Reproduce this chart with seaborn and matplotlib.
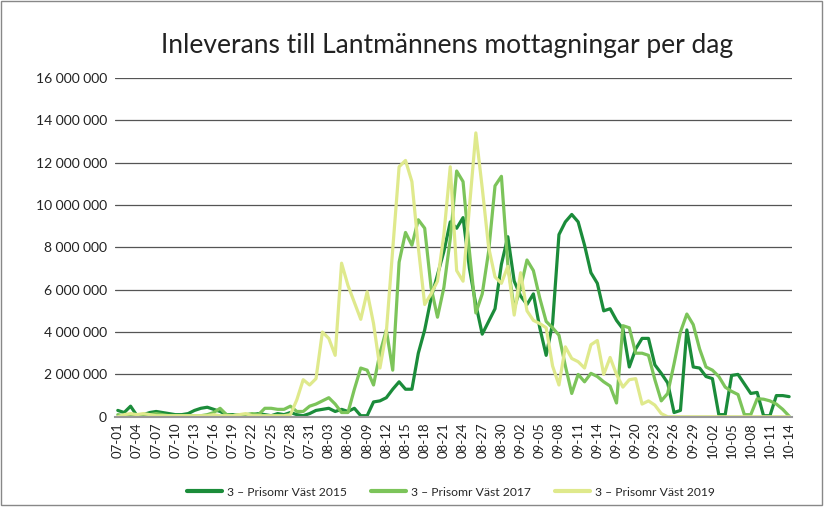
import matplotlib
matplotlib.use("Agg")
import matplotlib.pyplot as plt
import matplotlib.ticker as mticker
from matplotlib.patches import Rectangle
import seaborn as sns
import pandas as pd
import numpy as np

# daily deliveries, 07-01 .. 10-14, in millions
days = pd.date_range("2015-07-01", "2015-10-14").strftime("%m-%d").tolist()

v2015 = [0.3, 0.2, 0.5, 0.05, 0.1, 0.2, 0.25, 0.2, 0.15, 0.1,
         0.1, 0.15, 0.3, 0.4, 0.45, 0.35, 0.25, 0.1, 0.1, 0.05,
         0.1, 0.1, 0.15, 0.1, 0.05, 0.15, 0.1, 0.2, 0.1, 0.05,
         0.15, 0.3, 0.35, 0.4, 0.25, 0.35, 0.25, 0.4, 0.05, 0.05,
         0.7, 0.75, 0.9, 1.3, 1.65, 1.3, 1.3, 3.0, 4.1, 5.6,
         6.7, 7.8, 9.2, 8.9, 9.4, 7.0, 5.3, 3.9, 4.5, 5.1,
         7.2, 8.5, 6.4, 5.7, 5.3, 5.8, 4.2, 2.9, 4.4, 8.6,
         9.2, 9.55, 9.2, 8.1, 6.8, 6.3, 5.0, 5.1, 4.55, 4.15,
         2.35, 3.2, 3.7, 3.7, 2.45, 2.05, 1.6, 0.2, 0.3, 4.1,
         2.35, 2.3, 1.9, 1.8, 0.1, 0.1, 1.95, 2.0, 1.55, 1.1,
         1.15, 0.05, 0.05, 1.0, 1.0, 0.95]

v2017 = [0.1, 0.05, 0.1, 0.1, 0.05, 0.1, 0.15, 0.1, 0.05, 0.05,
         0.05, 0.05, 0.05, 0.05, 0.1, 0.2, 0.4, 0.1, 0.05, 0.1,
         0.1, 0.15, 0.1, 0.4, 0.4, 0.35, 0.35, 0.5, 0.25, 0.25,
         0.5, 0.6, 0.75, 0.9, 0.6, 0.2, 0.2, 1.3, 2.3, 2.2,
         1.5, 3.0, 4.1, 2.2, 7.3, 8.7, 8.1, 9.3, 8.9, 6.1,
         4.7, 6.1, 8.4, 11.6, 11.1, 7.8, 4.9, 5.8, 7.8, 10.9,
         11.35, 7.2, 5.1, 6.1, 7.4, 6.9, 5.6, 4.5, 4.2, 3.85,
         2.4, 1.1, 2.0, 1.65, 2.05, 1.9, 1.65, 1.45, 0.65, 4.3,
         4.2, 3.0, 3.0, 2.9, 1.75, 0.75, 1.1, 2.5, 4.0, 4.85,
         4.35, 3.2, 2.35, 2.2, 1.9, 1.4, 1.2, 1.05, 0.1, 0.1,
         0.85, 0.83, 0.75, 0.6, 0.35, 0.03]

v2019 = [0.0, 0.1, 0.15, 0.1, 0.15, 0.1, 0.05, 0.05, 0.05, 0.05,
         0.05, 0.05, 0.05, 0.05, 0.05, 0.1, 0.05, 0.05, 0.05, 0.1,
         0.15, 0.05, 0.05, 0.05, 0.05, 0.05, 0.05, 0.1, 0.8, 1.75,
         1.5, 1.8, 4.0, 3.7, 2.9, 7.25, 6.2, 5.4, 4.6, 5.9,
         4.4, 2.3, 4.0, 7.9, 11.8, 12.1, 11.1, 8.0, 5.3, 5.8,
         6.4, 8.6, 11.8, 6.9, 6.4, 9.9, 13.4, 10.8, 8.0, 6.6,
         6.3, 7.1, 4.8, 6.8, 5.0, 4.55, 4.4, 4.2, 2.4, 1.5,
         3.3, 2.75, 2.6, 2.3, 3.4, 3.6, 2.0, 2.8, 2.0, 1.4,
         1.75, 1.8, 0.6, 0.75, 0.55, 0.15, 0.0, 0.0, 0.0, 0.0,
         0.0, 0.0, 0.0, 0.0, 0.0, 0.0, 0.0, 0.0, 0.0, 0.0,
         0.0, 0.0, 0.0, 0.0, 0.0, 0.0]

series = ["3 – Prisomr Väst 2015", "3 – Prisomr Väst 2017", "3 – Prisomr Väst 2019"]
colors = ["#1b8c3a", "#7cc45a", "#dfe98c"]

df = pd.concat([
    pd.DataFrame({"dag": np.arange(len(days)), "ton": np.array(v) * 1e6, "serie": s})
    for s, v in zip(series, [v2015, v2017, v2019])
])

sns.set_theme(style="white")
plt.rcParams["font.family"] = ["Lato", "DejaVu Sans"]

fig = plt.figure(figsize=(8.29, 5.12), dpi=100)
ax = fig.add_axes([0.139, 0.186, 0.816, 0.662])

sns.lineplot(data=df, x="dag", y="ton", hue="serie", palette=colors,
             linewidth=2.3, ax=ax, legend=True)

ax.set_xlim(-0.4, 105.4)
ax.set_ylim(0, 16e6)
ax.yaxis.set_major_locator(mticker.MultipleLocator(2e6))
ax.yaxis.set_major_formatter(mticker.FuncFormatter(lambda v, p: f"{int(v):,}".replace(",", " ")))
ax.set_xticks(range(0, len(days), 3))
ax.set_xticklabels(days[::3], rotation=90, fontsize=9.5, color="#222")
ax.tick_params(axis="y", labelsize=10, colors="#222", length=0, pad=6)
ax.tick_params(axis="x", length=0, pad=4)
ax.grid(axis="y", color="#555", linewidth=0.9)
ax.set_axisbelow(True)
for s in ["top", "right", "left"]:
    ax.spines[s].set_visible(False)
ax.spines["bottom"].set_color("#999")
ax.spines["bottom"].set_linewidth(1.5)
ax.set_xlabel("")
ax.set_ylabel("")

leg = ax.legend(loc="center", bbox_to_anchor=(0.496, -0.222), ncol=3, frameon=False,
                fontsize=8.7, handlelength=2.9, handletextpad=0.4, columnspacing=2.0)
for ln in leg.get_lines():
    ln.set_linewidth(3)

fig.text(0.539, 0.912, "Inleverans till Lantmännens mottagningar per dag",
         ha="center", va="center", fontsize=19, color="#222")

fig.patches.append(Rectangle((0.001, 0.013), 0.99, 0.985, transform=fig.transFigure,
                             fill=False, edgecolor="#888", linewidth=1))

fig.savefig("out.png", dpi=100)
